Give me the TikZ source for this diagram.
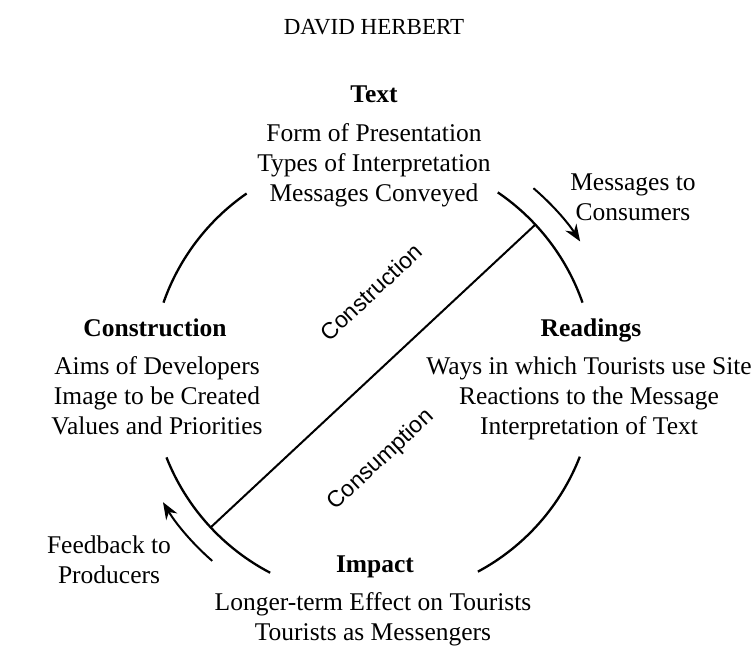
\documentclass[tikz,border=0pt]{standalone}
\usepackage{fontspec}
\setmainfont{Liberation Serif}
\newfontfamily\labsans{Liberation Sans}
\usetikzlibrary{arrows.meta,calc}
\begin{document}
\begin{tikzpicture}[x=1pt,y=1pt,
  ring/.style={line width=2.3pt},
  axis/.style={line width=2pt},
  flow/.style={line width=2pt,-{Stealth[length=17pt,width=13pt]}},
  head/.style={font=\fontsize{25.5}{30}\selectfont\bfseries, anchor=base, inner sep=0pt},
  body/.style={font=\fontsize{25.5}{29.8}\selectfont, align=center, anchor=base, inner sep=0pt},
  side/.style={font=\labsans\fontsize{23}{27}\selectfont, inner sep=0pt, rotate=43}]
\useasboundingbox (0,0) rectangle (754,-648);
\coordinate (C) at (373,-376);
% ring arcs
\draw[ring] ($(C)+(55.8:222)$) arc[start angle=55.8, end angle=19.3, radius=222];
\draw[ring] ($(C)+(124.7:222)$) arc[start angle=124.7, end angle=160.7, radius=222];
\draw[ring] ($(C)+(201.5:222)$) arc[start angle=201.5, end angle=242.4, radius=222];
\draw[ring] ($(C)+(-21.3:222)$) arc[start angle=-21.3, end angle=-61.8, radius=222];
% diameter
\coordinate (d1) at ($(C)+(43:222)$);
\coordinate (d2) at ($(C)+(223:222)$);
\draw[axis] (d1) -- (d2);
% flow arrows
\draw[flow] ($(C)+(49.5:247)$) arc[start angle=49.5, end angle=33, radius=247];
\draw[flow] ($(C)+(229:245)$) arc[start angle=229, end angle=211, radius=245];
% texts (body nodes anchored at the baseline of their last line)
\node[font=\fontsize{23}{27}\selectfont, anchor=base, inner sep=0pt] (title) at (374,-34) {DAVID HERBERT};
\node[head] (texthead) at (374,-102) {Text};
\node[body] (textbody) at (374,-201) {Form of Presentation\\Types of Interpretation\\Messages Conveyed};
\node[head] (conshead) at (155,-336) {Construction};
\node[body] (consbody) at (157,-434) {Aims of Developers\\Image to be Created\\Values and Priorities};
\node[head] (readhead) at (591,-336) {Readings};
\node[body] (readbody) at (589,-434) {Ways in which Tourists use Site\\Reactions to the Message\\Interpretation of Text};
\node[head] (imphead) at (375,-572) {Impact};
\node[body] (impbody) at (373,-640) {Longer-term Effect on Tourists\\Tourists as Messengers};
\node[body] (msg) at (633,-220) {Messages to\\Consumers};
\node[body] (fb) at (109,-583) {Feedback to\\Producers};
\node[side] (lcons) at (371,-292) {Construction};
\node[side] (lcsm) at (381,-460) {Consumption};
\end{tikzpicture}
\end{document}
